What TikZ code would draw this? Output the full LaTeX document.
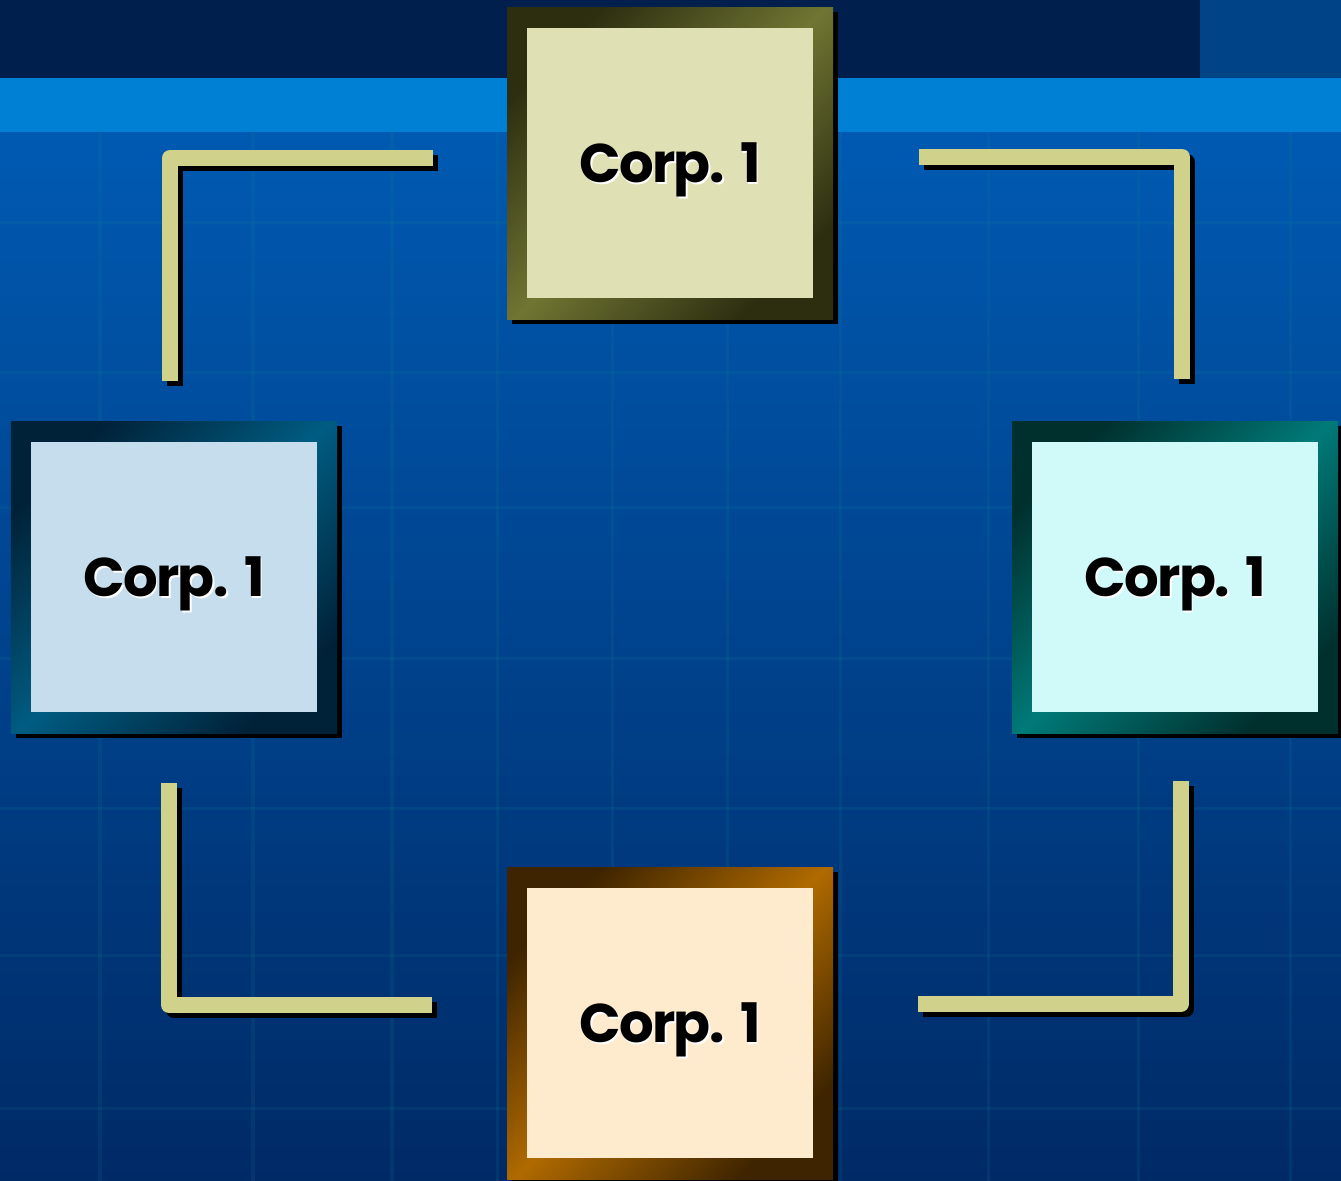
\documentclass[tikz,border=0pt]{standalone}
\usepackage{fontspec}
\newfontfamily\corpfont{Poppins}[LetterSpace=-3]
\definecolor{bgnavy}{RGB}{0,31,77}
\definecolor{bgcorner}{RGB}{0,68,136}
\definecolor{bgband}{RGB}{0,128,212}
\definecolor{bgtop}{RGB}{0,90,178}
\definecolor{bgbottom}{RGB}{0,42,102}
\definecolor{gridc}{RGB}{20,130,150}
\definecolor{connc}{RGB}{208,210,140}
\definecolor{oliveD}{RGB}{45,46,16}
\definecolor{oliveL}{RGB}{112,117,50}
\definecolor{oliveI}{RGB}{223,225,181}
\definecolor{blueD}{RGB}{0,34,56}
\definecolor{blueL}{RGB}{0,92,130}
\definecolor{blueI}{RGB}{198,221,238}
\definecolor{tealD}{RGB}{0,48,46}
\definecolor{tealL}{RGB}{0,122,120}
\definecolor{tealI}{RGB}{208,250,250}
\definecolor{brownD}{RGB}{62,36,0}
\definecolor{brownL}{RGB}{176,106,0}
\definecolor{brownI}{RGB}{254,234,205}
\tikzset{
  corpinner/.style={rectangle, minimum width=2.86cm, minimum height=2.70cm, inner sep=0pt,
    text height=0.39cm, text depth=0pt, text=black,
    font=\corpfont\bfseries\fontsize{15.5}{19}\selectfont},
  connbar/.style={draw=connc, line width=0.16cm, line join=round, line cap=butt},
  connshadow/.style={draw=black, line width=0.16cm, line join=round, line cap=butt,
    transform canvas={xshift=0.05cm, yshift=-0.05cm}},
  gridline/.style={draw=gridc, opacity=0.15, line width=0.03cm},
}
\newcommand\corpword{Corp.\kern1.6pt\ 1}
\newcommand\corptext{\rlap{\kern0.5pt\raisebox{-0.5pt}{\color{white}\corpword}}\corpword}
\newcommand\corpbox[6]{%
  \fill[black] (#2-158,#3-151) rectangle (#2+168,#3+161);
  \shade[top color=#4, bottom color=#4, middle color=#5, shading angle=45]
    (#2-163,#3-156) rectangle (#2+163,#3+156);
  \node[corpinner, fill=#6] (#1) at (#2,#3) {\corptext};
}
\begin{document}
\begin{tikzpicture}[x=0.01cm, y=-0.01cm]
\useasboundingbox (0,0) rectangle (1341,1181);
% background
\shade[top color=bgtop, bottom color=bgbottom] (0,130) rectangle (1341,1181);
\fill[bgband] (0,78) rectangle (1341,132);
\fill[bgnavy] (0,0) rectangle (1200,78);
\fill[bgcorner] (1200,0) rectangle (1341,78);
% faint grid
\foreach \gx in {100,253,392,497,612,727,840,988,1138,1290}
  \draw[gridline] (\gx,132) -- (\gx,1181);
\foreach \gy in {222,372,507,658,808,955,1108}
  \draw[gridline] (0,\gy) -- (1341,\gy);
% connector end points
\coordinate (tlA) at (433,158);
\coordinate (tlC) at (170,158);
\coordinate (tlB) at (170,381);
\coordinate (trA) at (919,157);
\coordinate (trC) at (1182,157);
\coordinate (trB) at (1182,379);
\coordinate (blA) at (169,783);
\coordinate (blC) at (169,1005);
\coordinate (blB) at (432,1005);
\coordinate (brA) at (1181,781);
\coordinate (brC) at (1181,1004);
\coordinate (brB) at (918,1004);
% connector shadows
\draw[connshadow] (tlA) -- (tlC) -- (tlB);
\draw[connshadow] (trA) -- (trC) -- (trB);
\draw[connshadow] (blA) -- (blC) -- (blB);
\draw[connshadow] (brA) -- (brC) -- (brB);
% connectors
\draw[connbar] (tlA) -- (tlC) -- (tlB);
\draw[connbar] (trA) -- (trC) -- (trB);
\draw[connbar] (blA) -- (blC) -- (blB);
\draw[connbar] (brA) -- (brC) -- (brB);
% boxes
\corpbox{top}{670}{163}{oliveD}{oliveL}{oliveI}
\corpbox{left}{174}{577}{blueD}{blueL}{blueI}
\corpbox{right}{1175}{577}{tealD}{tealL}{tealI}
\corpbox{bottom}{670}{1023}{brownD}{brownL}{brownI}
\end{tikzpicture}
\end{document}
